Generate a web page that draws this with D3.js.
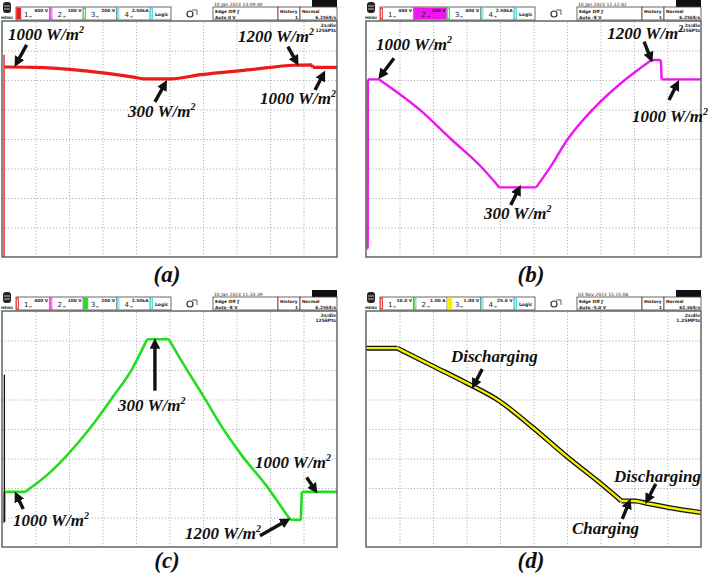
<!DOCTYPE html>
<html>
<head>
<meta charset="utf-8">
<script src="https://cdn.jsdelivr.net/npm/d3@7"></script>
<style>
  body { margin: 0; background: #fff; }
  svg { display: block; }
  .grid line { stroke: #9a9a9a; stroke-width: 0.9; stroke-dasharray: 1 2.2; }
  .grid path { display: none; }
  .note { font-family: 'Liberation Serif', 'Times New Roman', serif; font-weight: bold; font-style: italic; font-size: 17px; fill: #111; }
  .tag { font-family: 'Liberation Serif', 'Times New Roman', serif; font-weight: bold; font-style: italic; font-size: 23px; fill: #111; }
  .hd { font-family: 'DejaVu Sans', sans-serif; font-size: 5px; fill: #222; }
</style>
</head>
<body>
<svg id="chart" width="708" height="576"></svg>
<script>
// time in s (2 s/div), level in divisions from bottom of screen
var TIME_DOMAIN = [0, 20];
var DIV_DOMAIN = [0, 8];

var spikeA = [[0.12, 0], [0.12, 6.86]];
var traceA = [[0.14, 6.44], [1.86, 6.43], [4.85, 6.32],
  [7.84, 6.1], [8.44, 6.04], [10.06, 6.04], [11.86, 6.18], [14.85, 6.35], [17.43, 6.5],
  [18.5, 6.51], [18.56, 6.43], [20, 6.43]];

var traceB = [[0.04, 0.29], [0.1, 0.29], [0.11, 6.02], [0.78, 6.02], [3.17, 5.01], [5.07, 4.0],
  [6.96, 3.01], [7.96, 2.36], [10.16, 2.36], [10.96, 3.01], [12.05, 4.0], [13.55, 5.01],
  [15.45, 6.0], [17.05, 6.68], [17.6, 6.68], [17.65, 6.02], [20, 6.02]];

var spikeC = [[0.14, 0.85], [0.14, 5.84]];
var traceC = [[0.04, 0.85], [0.14, 0.85], [0.15, 1.87], [1.38, 1.87], [2.87, 2.53], [3.87, 3.1],
  [5.27, 4.04], [6.57, 5.05], [7.77, 6.04], [8.66, 7.04], [9.96, 7.04], [10.96, 6.08],
  [12.05, 5.09], [13.05, 4.14], [14.35, 3.08], [15.85, 2.03], [16.6, 1.42], [17.2, 0.93],
  [17.84, 0.91], [17.9, 1.87], [20, 1.87]];

var traceD = [[0, 6.74], [1.87, 6.74], [3.97, 6.14], [5.97, 5.57], [7.96, 4.95], [9.96, 4.05],
  [11.96, 3.08], [13.95, 2.18], [15.25, 1.56], [16.05, 1.56], [16.84, 1.47], [18.04, 1.34],
  [20, 1.17]];

// annotations: text, text anchor [t, div], arrow tail [t, div], arrow tip [t, div]
var notesA = [
  ['1000 W/m', [0.36, 7.36], [1.47, 7.19], [0.9, 6.6]],
  ['1200 W/m', [14.09, 7.29], [17.07, 7.13], [17.55, 6.64]],
  ['300 W/m', [7.52, 4.75], [9.13, 5.26], [9.7, 5.84]],
  ['1000 W/m', [15.4, 5.19], [18.69, 5.66], [19.15, 6.16]]
];
var notesB = [
  ['1000 W/m', [0.6, 7.02], [1.67, 6.74], [0.92, 6.17]],
  ['1200 W/m', [14.4, 7.39], [16.6, 7.3], [16.98, 6.76]],
  ['1000 W/m', [15.88, 4.58], [18.09, 5.32], [18.55, 5.84]],
  ['300 W/m', [7.04, 1.29], [8.64, 1.76], [9.1, 2.28]]
];
var notesC = [
  ['300 W/m', [6.93, 4.61], [9.13, 5.3], [9.13, 6.9]],
  ['1000 W/m', [0.66, 0.71], [1.27, 1.29], [0.9, 1.72]],
  ['1200 W/m', [10.93, 0.27], [15.4, 0.38], [16.95, 0.88]],
  ['1000 W/m', [15.1, 2.68], [18.19, 2.36], [18.66, 1.96]]
];
var notesD = [
  ['Discharging', [5.07, 6.27], [6.94, 6.03], [6.47, 5.52]],
  ['Discharging', [14.81, 2.2], [17.3, 2.14], [16.82, 1.62]],
  ['Charging', [12.3, 0.44], [15.3, 0.95], [15.68, 1.48]]
];

// scope status bar texts
var chScalesA = ['400 V', '100 V', '200 V', '2.50kA'];
var chScalesB = ['400 V', '100 V', '400 V', '2.50kA'];
var chScalesC = ['400 V', '100 V', '200 V', '2.50kA'];
var chScalesD = ['10.0 V', '1.00 A', '1.00 V', '25.0 V'];
var dates = ['10 Jan 2023 13:09:40', '10 Jan 2023 12:12:42', '10 Jan 2023 11:33:39', '03 Nov 2022 15:15:06'];
var trigLevels = ['Auto 0 V', 'Auto -8 V', 'Auto -8 V', 'Auto -5.0 V'];
var sampleRates = ['6.25kS/s', '6.25kS/s', '6.25kS/s', '62.5kS/s'];
var memDepths = ['125kPts', '125kPts', '125kPts', '1.25MPts'];
var tags = ['(a)', '(b)', '(c)', '(d)'];

var W = 335, H = 236;
var svg = d3.select('#chart');

var defs = svg.append('defs');
defs.append('marker')
  .attr('id', 'head')
  .attr('viewBox', '0 0 10 10')
  .attr('refX', 5).attr('refY', 5)
  .attr('markerWidth', 3.1).attr('markerHeight', 3.1)
  .attr('orient', 'auto')
  .append('path')
  .attr('d', 'M0,0 L10,5 L0,10 Z')
  .attr('fill', '#111');

var x = d3.scaleLinear().domain(TIME_DOMAIN).range([0, W]);
var y = d3.scaleLinear().domain(DIV_DOMAIN).range([H, 0]);
var smooth = d3.line().x(function(d) { return x(d[0]); }).y(function(d) { return y(d[1]); })
  .curve(d3.curveMonotoneX);

// split a trace at its sharp corners, smooth each run in between
function tracePath(data) {
  var runs = [[data[0]]];
  for (var i = 1; i < data.length; i++) {
    runs[runs.length - 1].push(data[i]);
    if (i < data.length - 1) {
      var a1 = Math.atan2(y(data[i][1]) - y(data[i - 1][1]), x(data[i][0]) - x(data[i - 1][0]));
      var a2 = Math.atan2(y(data[i + 1][1]) - y(data[i][1]), x(data[i + 1][0]) - x(data[i][0]));
      if (Math.abs(a2 - a1) > 0.26) runs.push([data[i]]);
    }
  }
  return runs.map(function(r) { return smooth(r); }).join('');
}

var panels = [
  {left: 2, top: 21, tagDy: 25, scales: chScalesA, active: 0, notes: notesA,
    traces: [{data: spikeA, color: '#ee1a1a', w: 1.4}, {data: traceA, color: '#ee1a1a', w: 3.2}]},
  {left: 366, top: 21, tagDy: 25, scales: chScalesB, active: 1, notes: notesB,
    traces: [{data: traceB, color: '#f014f0', w: 2.4}]},
  {left: 2, top: 311, tagDy: 21, scales: chScalesC, active: 2, notes: notesC,
    traces: [{data: traceC, color: '#22dd22', w: 2.6}, {data: spikeC, color: '#111', w: 1.3}]},
  {left: 366, top: 311, tagDy: 21, scales: chScalesD, active: 2, notes: notesD,
    traces: [{data: traceD, color: '#111', w: 5}, {data: traceD, color: '#f5f000', w: 2.4}]}
];
var chColors = ['#ee1a1a', '#f014f0', '#22dd22', '#22dddd'];

panels.forEach(function(p, i) {
  var g = svg.append('g').attr('transform', 'translate(' + p.left + ',' + p.top + ')');
  drawHeader(g, p, i);

  g.append('g').attr('class', 'grid')
    .attr('transform', 'translate(0,' + H + ')')
    .call(d3.axisBottom(x).tickValues(d3.range(2, 20, 2)).tickSize(-H).tickFormat(''));
  g.append('g').attr('class', 'grid')
    .call(d3.axisLeft(y).tickValues(d3.range(1, 8)).tickSize(-W).tickFormat(''));

  g.append('text').attr('class', 'hd').attr('x', W - 1).attr('y', 6)
    .attr('text-anchor', 'end').style('font-weight', 'bold').style('font-size', '4.5px').text('2s/div');
  g.append('text').attr('class', 'hd').attr('x', W - 1).attr('y', 11)
    .attr('text-anchor', 'end').style('font-weight', 'bold').style('font-size', '4.5px').text(memDepths[i]);

  g.append('clipPath').attr('id', 'clip' + i)
    .append('rect').attr('width', W).attr('height', H);

  var tr = g.append('g').attr('clip-path', 'url(#clip' + i + ')');
  p.traces.forEach(function(t) {
    tr.append('path')
      .attr('d', tracePath(t.data))
      .attr('fill', 'none')
      .attr('stroke', t.color)
      .attr('stroke-width', t.w)
      .attr('stroke-linejoin', 'round');
  });

  g.append('rect')
    .attr('width', W).attr('height', H)
    .attr('fill', 'none').attr('stroke', '#5a5a5a').attr('stroke-width', 1.4);

  p.notes.forEach(function(n) {
    var t = g.append('text').attr('class', 'note')
      .attr('x', x(n[1][0])).attr('y', y(n[1][1]))
      .text(n[0]);
    if (n[0].indexOf('W/m') >= 0) {
      t.append('tspan').attr('dy', -7).style('font-size', '10px').text('2');
    }
    g.append('line')
      .attr('x1', x(n[2][0])).attr('y1', y(n[2][1]))
      .attr('x2', x(n[3][0])).attr('y2', y(n[3][1]))
      .attr('stroke', '#111').attr('stroke-width', 3.4)
      .attr('marker-end', 'url(#head)');
  });

  svg.append('text').attr('class', 'tag')
    .attr('x', p.left + 165).attr('y', p.top + H + p.tagDy)
    .attr('text-anchor', 'middle')
    .text(tags[i]);
});

function drawHeader(g, p, i) {
  var h = g.append('g').attr('transform', 'translate(-2,-21)');
  // menu button
  h.append('rect').attr('x', 3).attr('y', 2).attr('width', 8).attr('height', 11).attr('rx', 3).attr('fill', '#222');
  h.append('line').attr('x1', 4).attr('x2', 10).attr('y1', 6).attr('y2', 6).attr('stroke', '#fff').attr('stroke-width', 0.7);
  h.append('line').attr('x1', 4).attr('x2', 10).attr('y1', 9).attr('y2', 9).attr('stroke', '#fff').attr('stroke-width', 0.7);
  h.append('text').attr('class', 'hd').attr('x', 7).attr('y', 18.5).attr('text-anchor', 'middle')
    .style('font-size', '3.6px').style('font-weight', 'bold').text('MENU');

  // channel block
  h.append('rect').attr('x', 16).attr('y', 7).attr('width', 155).attr('height', 13)
    .attr('fill', '#fff').attr('stroke', '#444').attr('stroke-width', 0.8);
  var cols = chColors.slice();
  if (i === 3) cols = ['#ee1a1a', '#22dd22', '#f5f000', '#22dddd'];
  p.scales.forEach(function(s, k) {
    var cx = 16 + k * 33.5;
    var on = k === p.active;
    if (i === 1 && on) {
      h.append('rect').attr('x', cx + 1).attr('y', 7.5).attr('width', 32).attr('height', 12).attr('fill', cols[k]);
    }
    h.append('rect').attr('x', cx + 0.8).attr('y', 8).attr('width', on ? 4 : 1.6).attr('height', 11)
      .attr('fill', on ? cols[k] : '#fff').attr('stroke', cols[k]).attr('stroke-width', 0.8);
    h.append('text').attr('class', 'hd').attr('x', cx + 8).attr('y', 17)
      .style('font-size', '7px').text(k + 1);
    h.append('text').attr('class', 'hd').attr('x', cx + 13).attr('y', 18)
      .style('font-size', '3.5px').style('font-weight', 'bold').text('⎓');
    h.append('text').attr('class', 'hd').attr('x', cx + 32).attr('y', 12)
      .attr('text-anchor', 'end').style('font-size', '4.3px').style('font-weight', 'bold').text(s);
    h.append('line').attr('x1', cx + 33.5).attr('x2', cx + 33.5).attr('y1', 7).attr('y2', 20)
      .attr('stroke', '#444').attr('stroke-width', 0.6);
  });
  h.append('rect').attr('x', 151).attr('y', 8).attr('width', 1.6).attr('height', 11)
    .attr('fill', '#fff').attr('stroke', '#22dddd').attr('stroke-width', 0.8);
  h.append('text').attr('class', 'hd').attr('x', 155).attr('y', 16)
    .style('font-size', '4.5px').style('font-weight', 'bold').text('Logic');

  // zoom icon
  h.append('circle').attr('cx', 190).attr('cy', 14).attr('r', 3).attr('fill', 'none').attr('stroke', '#333').attr('stroke-width', 1.2);
  h.append('path').attr('d', 'M192,10 h5 v5').attr('fill', 'none').attr('stroke', '#333').attr('stroke-width', 0.8);

  // date + trigger / acquisition boxes
  h.append('text').attr('class', 'hd').attr('x', 214).attr('y', 5.5).style('font-size', '4.5px').text(dates[i]);
  h.append('rect').attr('x', 312).attr('y', 0).attr('width', 25).attr('height', 7).attr('fill', '#111');
  [[213, 65], [278, 22], [300, 37]].forEach(function(b) {
    h.append('rect').attr('x', b[0]).attr('y', 7).attr('width', b[1]).attr('height', 13)
      .attr('fill', '#fff').attr('stroke', '#444').attr('stroke-width', 0.8);
  });
  h.append('text').attr('class', 'hd').attr('x', 215).attr('y', 12.5).style('font-size', '4.3px').style('font-weight', 'bold').text('Edge  Off  ƒ');
  h.append('text').attr('class', 'hd').attr('x', 215).attr('y', 18.5).style('font-size', '4.3px').style('font-weight', 'bold').text(trigLevels[i]);
  h.append('text').attr('class', 'hd').attr('x', 280).attr('y', 12.5).style('font-size', '4.3px').style('font-weight', 'bold').text('History');
  h.append('text').attr('class', 'hd').attr('x', 298).attr('y', 18.5).attr('text-anchor', 'end').style('font-size', '4.3px').style('font-weight', 'bold').text('1');
  h.append('text').attr('class', 'hd').attr('x', 302).attr('y', 12.5).style('font-size', '4.3px').style('font-weight', 'bold').text('Normal');
  h.append('text').attr('class', 'hd').attr('x', 336).attr('y', 18.5).attr('text-anchor', 'end').style('font-size', '4.3px').style('font-weight', 'bold').text(sampleRates[i]);
}
</script>
</body>
</html>
